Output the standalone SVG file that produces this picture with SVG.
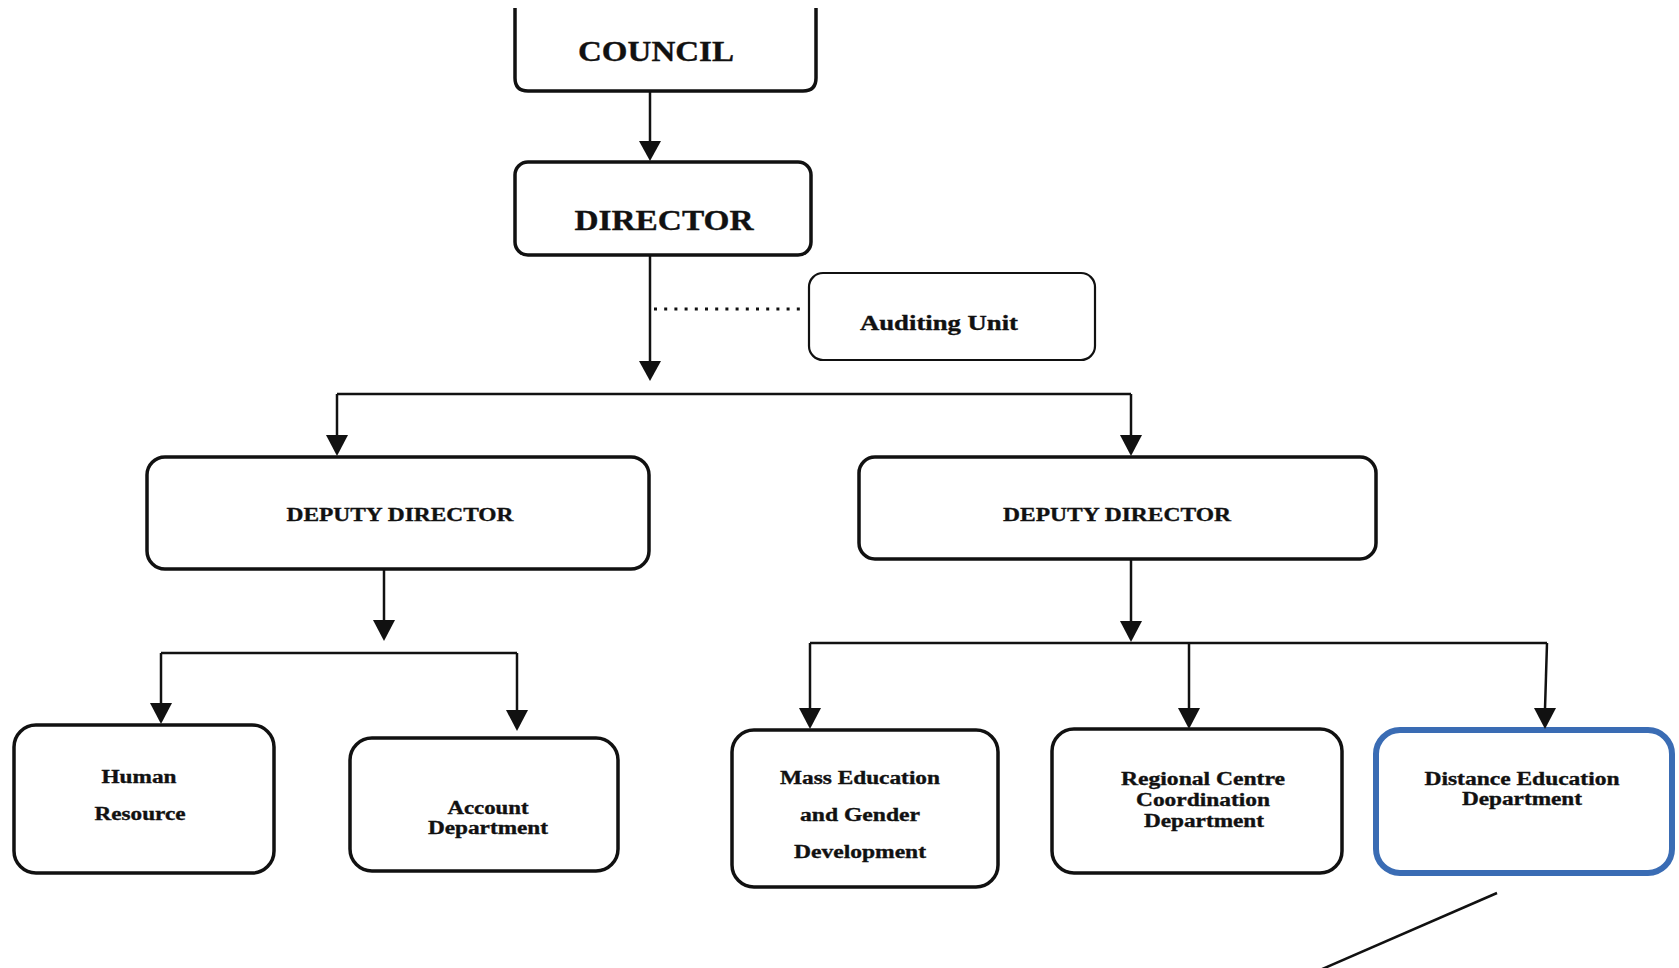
<svg xmlns="http://www.w3.org/2000/svg" width="1679" height="968" viewBox="0 0 1679 968">
<style>
.box{fill:#fff;stroke:#111;stroke-width:3.5}
.thin{fill:#fff;stroke:#111;stroke-width:2.2}
.blue{fill:#fff;stroke:#3a6cb4;stroke-width:6}
.con{fill:none;stroke:#111;stroke-width:2.5}
.dot{fill:none;stroke:#111;stroke-width:3;stroke-dasharray:3 7.2}
.head{fill:#111}
text{font-family:"Liberation Serif","Times New Roman",serif;font-weight:bold;fill:#111;stroke:#111;stroke-width:0.35;text-anchor:middle}
.big{font-size:29px}
.mid{font-size:19px}
.sm{font-size:18px}
</style>
<rect width="1679" height="968" fill="#fff"/>

<g id="node-council">
<path class="box" d="M515,8 V78 Q515,91 528,91 H803 Q816,91 816,78 V8"/>
<text class="big" x="656" y="61" textLength="156" lengthAdjust="spacingAndGlyphs">COUNCIL</text>
</g>
<g id="node-director">
<rect class="box" x="515" y="162" width="296" height="93" rx="13"/>
<text class="big" x="664" y="230" textLength="179" lengthAdjust="spacingAndGlyphs">DIRECTOR</text>
</g>
<g id="node-auditing">
<rect class="thin" x="809" y="273" width="286" height="87" rx="14"/>
<text style="font-size:21px" x="939" y="330" textLength="158" lengthAdjust="spacingAndGlyphs">Auditing Unit</text>
</g>
<g id="node-deputy-left">
<rect class="box" x="147" y="457" width="502" height="112" rx="18"/>
<text class="mid" x="400" y="521" textLength="227" lengthAdjust="spacingAndGlyphs">DEPUTY DIRECTOR</text>
</g>
<g id="node-deputy-right">
<rect class="box" x="859" y="457" width="517" height="102" rx="16"/>
<text class="mid" x="1117" y="521" textLength="228" lengthAdjust="spacingAndGlyphs">DEPUTY DIRECTOR</text>
</g>
<g id="node-hr">
<rect class="box" x="14" y="725" width="260" height="148" rx="22"/>
<text class="sm" x="139" y="783" textLength="75" lengthAdjust="spacingAndGlyphs">Human</text>
<text class="sm" x="140" y="820" textLength="91" lengthAdjust="spacingAndGlyphs">Resource</text>
</g>
<g id="node-account">
<rect class="box" x="350" y="738" width="268" height="133" rx="22"/>
<text class="sm" x="488" y="814" textLength="81" lengthAdjust="spacingAndGlyphs">Account</text>
<text class="sm" x="488" y="834" textLength="120" lengthAdjust="spacingAndGlyphs">Department</text>
</g>
<g id="node-mass">
<rect class="box" x="732" y="730" width="266" height="157" rx="22"/>
<text class="sm" x="860" y="784" textLength="160" lengthAdjust="spacingAndGlyphs">Mass Education</text>
<text class="sm" x="860" y="821" textLength="120" lengthAdjust="spacingAndGlyphs">and Gender</text>
<text class="sm" x="860" y="858" textLength="132" lengthAdjust="spacingAndGlyphs">Development</text>
</g>
<g id="node-regional">
<rect class="box" x="1052" y="729" width="290" height="144" rx="22"/>
<text class="sm" x="1203" y="785" textLength="164" lengthAdjust="spacingAndGlyphs">Regional Centre</text>
<text class="sm" x="1203" y="806" textLength="134" lengthAdjust="spacingAndGlyphs">Coordination</text>
<text class="sm" x="1204" y="827" textLength="120" lengthAdjust="spacingAndGlyphs">Department</text>
</g>
<g id="node-distance">
<rect class="blue" x="1376" y="730" width="296" height="143" rx="24"/>
<text class="sm" x="1522" y="785" textLength="195" lengthAdjust="spacingAndGlyphs">Distance Education</text>
<text class="sm" x="1522" y="805" textLength="120" lengthAdjust="spacingAndGlyphs">Department</text>
</g>

<g id="connectors">
<line class="dot" x1="654" y1="309" x2="803" y2="309"/>
<path class="con" d="M337,394 H1131"/>
<path class="con" d="M161,653 H517"/>
<path class="con" d="M810,643 H1547"/>
<line class="con" x1="650" y1="91" x2="650" y2="142"/>
<path class="head" d="M639,141 L661,141 L650,161 Z"/>
<line class="con" x1="650" y1="255" x2="650" y2="362"/>
<path class="head" d="M639,361 L661,361 L650,381 Z"/>
<line class="con" x1="337" y1="394" x2="337" y2="436"/>
<path class="head" d="M326,435 L348,435 L337,456 Z"/>
<line class="con" x1="1131" y1="394" x2="1131" y2="436"/>
<path class="head" d="M1120,435 L1142,435 L1131,456 Z"/>
<line class="con" x1="384" y1="569" x2="384" y2="621"/>
<path class="head" d="M373,620 L395,620 L384,641 Z"/>
<line class="con" x1="161" y1="653" x2="161" y2="704"/>
<path class="head" d="M150,703 L172,703 L161,724 Z"/>
<line class="con" x1="517" y1="653" x2="517" y2="711"/>
<path class="head" d="M506,710 L528,710 L517,731 Z"/>
<line class="con" x1="1131" y1="559" x2="1131" y2="622"/>
<path class="head" d="M1120,621 L1142,621 L1131,642 Z"/>
<line class="con" x1="810" y1="643" x2="810" y2="709"/>
<path class="head" d="M799,708 L821,708 L810,729 Z"/>
<line class="con" x1="1189" y1="643" x2="1189" y2="709"/>
<path class="head" d="M1178,708 L1200,708 L1189,729 Z"/>
<line class="con" x1="1547" y1="643" x2="1545" y2="709"/>
<path class="head" d="M1534,708 L1556,708 L1545,729 Z"/>
<line class="con" x1="1497" y1="893" x2="1320" y2="970"/>
</g>
</svg>
